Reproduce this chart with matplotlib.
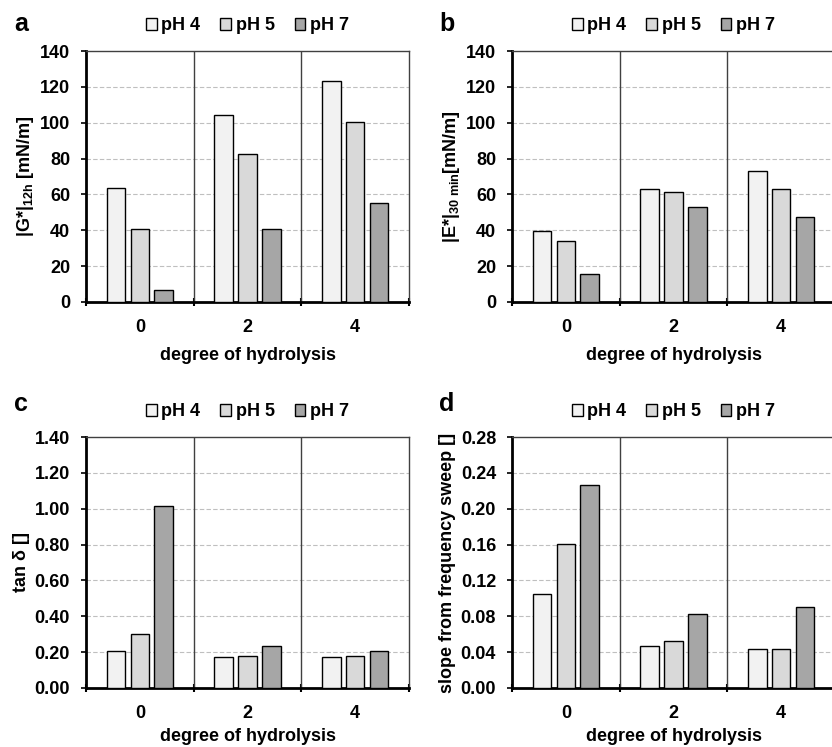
import matplotlib
matplotlib.use("Agg")
import matplotlib.pyplot as plt
import numpy as np

plt.rcParams['font.family'] = ['Liberation Sans', 'DejaVu Sans']
plt.rcParams['font.weight'] = 'bold'
plt.rcParams['mathtext.fontset'] = 'custom'
plt.rcParams['mathtext.rm'] = 'Liberation Sans:bold'
plt.rcParams['mathtext.it'] = 'Liberation Sans:bold'
plt.rcParams['mathtext.bf'] = 'Liberation Sans:bold'
plt.rcParams['mathtext.default'] = 'rm'

categories = ['0', '2', '4']
series = ['pH 4', 'pH 5', 'pH 7']
colors = ['#f2f2f2', '#d9d9d9', '#a6a6a6']

G_pH4 = [63.7, 104.3, 123.1]
G_pH5 = [40.6, 82.7, 100.6]
G_pH7 = [6.7, 40.8, 55.3]

E_pH4 = [39.5, 63.1, 73.2]
E_pH5 = [34.3, 61.6, 63.1]
E_pH7 = [15.5, 53.1, 47.3]

tan_pH4 = [0.206, 0.173, 0.173]
tan_pH5 = [0.301, 0.180, 0.180]
tan_pH7 = [1.014, 0.236, 0.206]

slope_pH4 = [0.105, 0.047, 0.043]
slope_pH5 = [0.161, 0.052, 0.043]
slope_pH7 = [0.227, 0.083, 0.090]

panels = [
    dict(letter='a', data=[G_pH4, G_pH5, G_pH7], ylim=140, step=20, fmt='{:.0f}',
         ylabel=r'|G*|$_{12h}$ [mN/m]'),
    dict(letter='b', data=[E_pH4, E_pH5, E_pH7], ylim=140, step=20, fmt='{:.0f}',
         ylabel=r'|E*|$_{30\ min}$[mN/m]'),
    dict(letter='c', data=[tan_pH4, tan_pH5, tan_pH7], ylim=1.40, step=0.20, fmt='{:.2f}',
         ylabel='tan δ []'),
    dict(letter='d', data=[slope_pH4, slope_pH5, slope_pH7], ylim=0.28, step=0.04, fmt='{:.2f}',
         ylabel='slope from frequency sweep []'),
]

W, H = 832, 747
fig = plt.figure(figsize=(W / 100, H / 100), dpi=100)

# axes pixel boxes: left, top, right, bottom
boxes = [(86, 51, 409, 302), (512, 51, 835, 302), (86, 437, 409, 688), (512, 437, 835, 688)]
letter_pos = [(21, 24), (447, 24), (21, 404), (447, 404)]
xlabel_pads = [8, 8, 4.5, 4.5]

FS = 13
x = np.arange(len(categories))
bw = 0.172
off = 0.222

for p, box, lp, lpad in zip(panels, boxes, letter_pos, xlabel_pads):
    l, t, r, b = box
    ax = fig.add_axes([l / W, 1 - b / H, (r - l) / W, (b - t) / H])
    handles = []
    for i, (vals, col, name) in enumerate(zip(p['data'], colors, series)):
        h = ax.bar(x + (i - 1) * off, vals, bw, color=col, edgecolor='black',
                   linewidth=1.0, label=name, zorder=3)
        handles.append(h)
    ax.set_xlim(-0.5, 2.5)
    ax.set_ylim(0, p['ylim'])
    yt = np.arange(0, p['ylim'] + p['step'] / 2, p['step'])
    ax.set_yticks(yt)
    ax.set_yticklabels([p['fmt'].format(v) for v in yt], fontsize=FS, fontweight='bold')
    ax.set_xticks(x)
    ax.set_xticklabels(categories, fontsize=FS, fontweight='bold')
    ax.tick_params(axis='x', which='major', length=0, pad=12)
    ax.set_xticks([-0.5, 0.5, 1.5, 2.5], minor=True)
    ax.tick_params(axis='x', which='minor', length=6, width=1.5, direction='inout')
    ax.tick_params(axis='y', which='major', length=3.5, width=1.2, direction='out', pad=8)
    for yv in yt[1:-1]:
        ax.axhline(yv, color='#bfbfbf', linestyle=(0, (4, 2)), linewidth=0.8, zorder=1)
    for xv in [0.5, 1.5]:
        ax.axvline(xv, color='#404040', linewidth=1.0, zorder=2)
    ax.spines['left'].set_linewidth(2.0)
    ax.spines['bottom'].set_linewidth(2.0)
    ax.spines['top'].set_linewidth(1.0)
    ax.spines['right'].set_linewidth(1.0)
    ax.spines['top'].set_color('#404040')
    ax.spines['right'].set_color('#404040')
    ax.set_xlabel('degree of hydrolysis', fontsize=FS, fontweight='bold', labelpad=lpad)
    ax.set_ylabel(p['ylabel'], fontsize=FS, fontweight='bold', labelpad=3)
    ax.legend(handles=handles, loc='lower center', bbox_to_anchor=(0.5, 1.03),
              ncol=3, frameon=False, handlelength=0.6, handleheight=0.6,
              handletextpad=0.25, columnspacing=1.1, borderaxespad=0.1,
              prop={'weight': 'bold', 'size': FS})
    fig.text(lp[0] / W, 1 - lp[1] / H, p['letter'], fontsize=18, fontweight='bold',
             ha='center', va='center')

fig.savefig('out.png', dpi=100)
